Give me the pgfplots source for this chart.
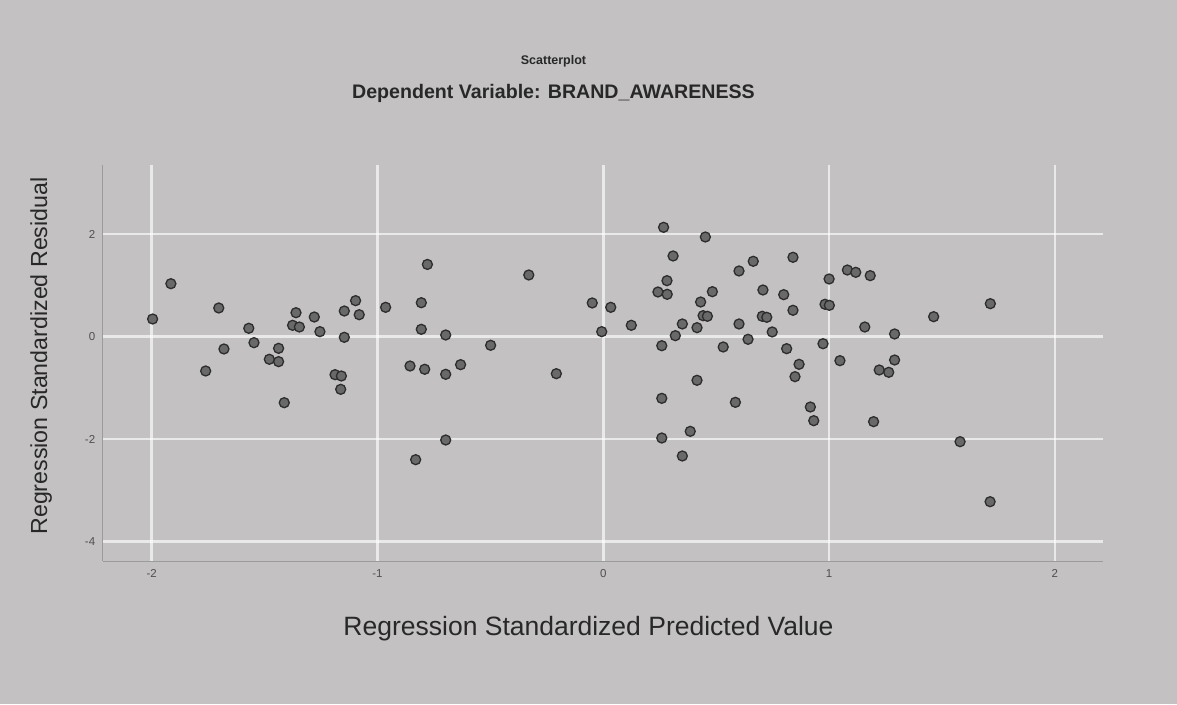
\documentclass[border=0pt]{standalone}
\usepackage{fontspec}
\setmainfont{Liberation Sans}
\usepackage{pgfplots}
\pgfplotsset{compat=1.18}
\definecolor{bg}{RGB}{195,193,194}
\definecolor{ptfill}{RGB}{105,105,105}
\definecolor{ptedge}{RGB}{45,45,45}
\definecolor{axisgray}{RGB}{155,155,155}
\definecolor{tickgray}{RGB}{80,80,80}
\definecolor{textdark}{RGB}{40,40,40}
\begin{document}
\begin{tikzpicture}[x=1pt,y=1pt]
\path[use as bounding box, fill=bg] (0,0) rectangle (1177,704);
\begin{axis}[
  at={(102.7pt,143pt)}, anchor=south west,
  scale only axis, width=1000.3pt, height=396pt,
  xmin=-2.217, xmax=2.213, ymin=-4.377, ymax=3.35,
  axis x line*=bottom, axis y line*=left,
  axis line style={axisgray, line width=1pt, -},
  xtick={-2,-1,0,1,2}, xticklabels={-2,-1,0,1,2},
  ytick={-4,-2,0,2}, yticklabels={-4,-2,0,2},
  major tick length=0pt,
  grid=major,
  grid style={white, opacity=0.65, line width=2.5pt},
  xticklabel style={font=\fontsize{11.5}{12}\selectfont, text=tickgray, yshift=-5pt},
  yticklabel style={font=\fontsize{11.5}{12}\selectfont, text=tickgray, xshift=-4pt},
  clip=false,
]
\addplot[only marks, mark=*, mark size=5pt, mark options={fill=ptfill, draw=ptedge, line width=1.3pt}] table {
x y
-1.996 0.345
-1.915 1.034
-1.703 0.560
-1.570 0.164
-1.680 -0.240
-1.547 -0.117
-1.361 0.468
-1.376 0.222
-1.346 0.189
-1.280 0.384
-1.255 0.098
-1.147 0.501
-1.097 0.703
-1.081 0.429
-1.147 -0.012
-0.964 0.573
-0.806 0.663
-0.779 1.410
-0.806 0.144
-0.698 0.033
-0.856 -0.572
-0.791 -0.636
-1.438 -0.227
-1.479 -0.441
-1.438 -0.487
-1.761 -0.669
-1.188 -0.741
-1.160 -0.767
-1.163 -1.027
-1.413 -1.288
-0.698 -0.734
-0.698 -2.016
-0.831 -2.400
-0.499 -0.168
-0.632 -0.546
-0.330 1.204
-0.208 -0.722
-0.049 0.658
0.033 0.573
-0.007 0.098
0.124 0.222
0.267 2.134
0.452 1.945
0.309 1.575
0.282 1.093
0.242 0.872
0.283 0.827
0.483 0.878
0.431 0.677
0.442 0.410
0.461 0.398
0.350 0.248
0.415 0.176
0.319 0.020
0.259 -0.176
0.601 1.282
0.664 1.471
0.707 0.911
0.799 0.820
0.704 0.398
0.724 0.378
0.601 0.248
0.748 0.092
0.531 -0.201
0.641 -0.051
0.812 -0.234
0.415 -0.851
0.259 -1.203
0.585 -1.281
0.385 -1.847
0.259 -1.977
0.350 -2.328
0.840 1.549
1.000 1.126
1.081 1.301
1.118 1.256
1.182 1.191
0.840 0.515
0.982 0.632
1.001 0.612
1.714 0.644
1.463 0.390
1.158 0.189
1.290 0.053
0.973 -0.137
0.867 -0.539
1.048 -0.468
1.290 -0.455
1.222 -0.650
1.264 -0.695
0.849 -0.780
0.917 -1.372
0.932 -1.639
1.197 -1.658
1.580 -2.049
1.713 -3.220
};
\end{axis}
\node[anchor=base, text=textdark, font=\bfseries\fontsize{12.5}{14}\selectfont] at (553.5,639.7) {Scatterplot};
\node[anchor=base, text=textdark, font=\bfseries\fontsize{19.6}{22}\selectfont] at (553.5,605.7) {Dependent Variable: BRAND\_AWARENESS};
\node[anchor=base, text=textdark, font=\fontsize{26.5}{30}\selectfont] at (588.5,69) {Regression Standardized Predicted Value};
\node[anchor=base, rotate=90, text=textdark, font=\fontsize{23.2}{26}\selectfont] at (47,348) {Regression Standardized Residual};
\end{tikzpicture}
\end{document}
